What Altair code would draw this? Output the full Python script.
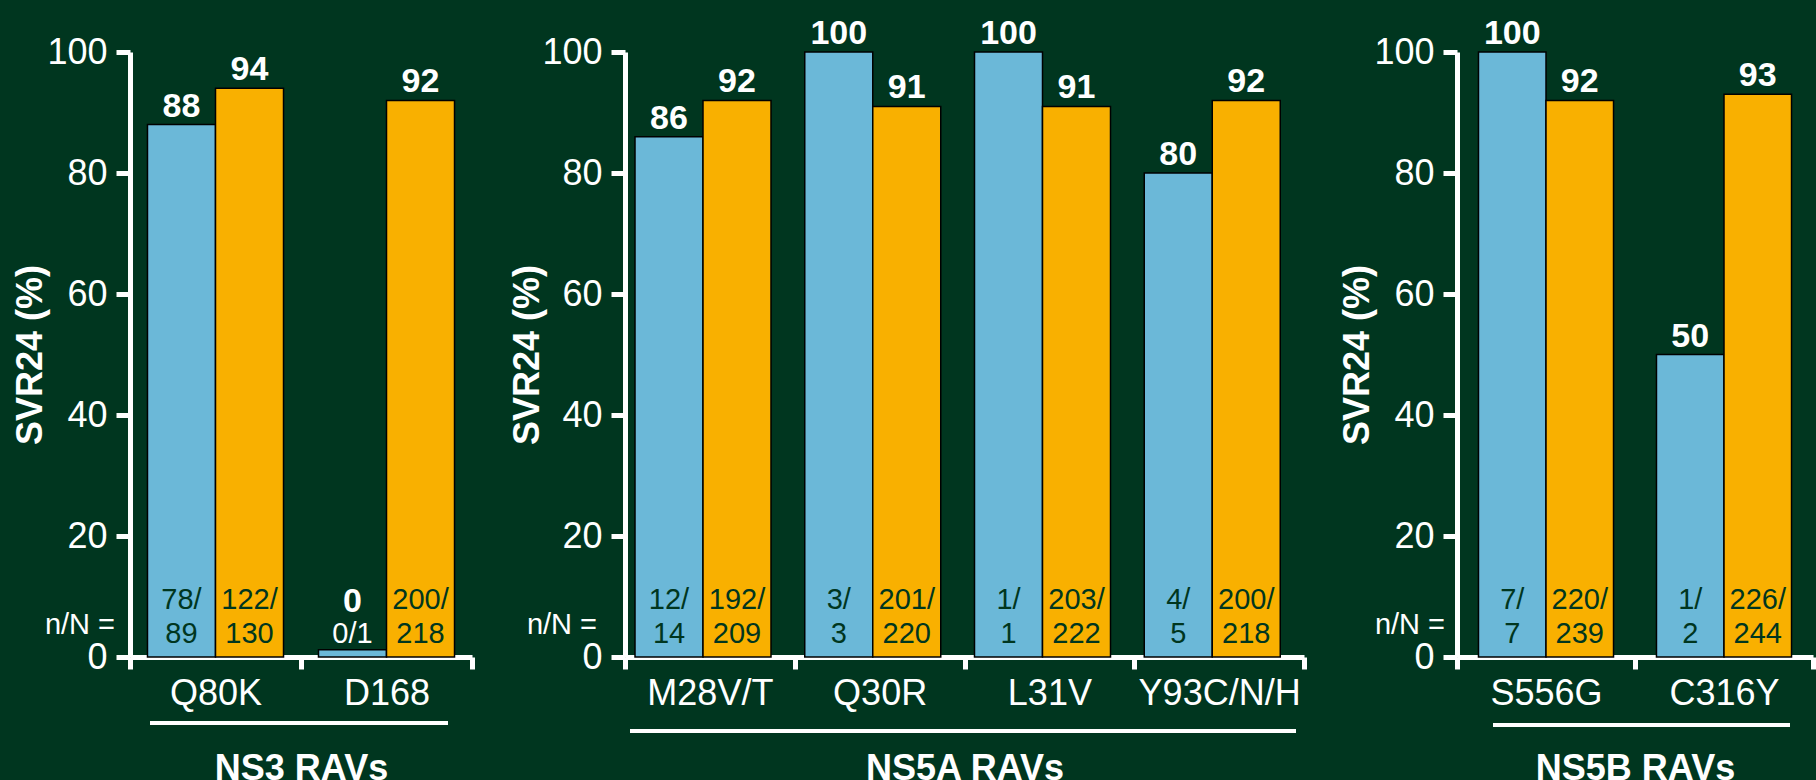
import altair as alt
import pandas as pd

FONT = "Liberation Sans"
BG = "#00361f"
BLUE = "#6bb8d8"
ORANGE = "#f9b000"
DARK = "#00361f"

arms = ["With RAV", "Without RAV"]

# NS3 RAVs
ns3_cats = ["Q80K", "D168"]
ns3_with = [88, 0]
ns3_without = [94, 92]
ns3_n_with = [78, 0]
ns3_N_with = [89, 1]
ns3_n_without = [122, 200]
ns3_N_without = [130, 218]

# NS5A RAVs
ns5a_cats = ["M28V/T", "Q30R", "L31V", "Y93C/N/H"]
ns5a_with = [86, 100, 100, 80]
ns5a_without = [92, 91, 91, 92]
ns5a_n_with = [12, 3, 1, 4]
ns5a_N_with = [14, 3, 1, 5]
ns5a_n_without = [192, 201, 203, 200]
ns5a_N_without = [209, 220, 222, 218]

# NS5B RAVs
ns5b_cats = ["S556G", "C316Y"]
ns5b_with = [100, 50]
ns5b_without = [92, 93]
ns5b_n_with = [7, 1]
ns5b_N_with = [7, 2]
ns5b_n_without = [220, 226]
ns5b_N_without = [239, 244]

y_ticks = [0, 20, 40, 60, 80, 100]
H = 605


def make_df(cats, v_with, v_without, n_with, N_with, n_without, N_without):
    rows = []
    for i, c in enumerate(cats):
        for arm, v, n, N in [
            (arms[0], v_with[i], n_with[i], N_with[i]),
            (arms[1], v_without[i], n_without[i], N_without[i]),
        ]:
            if v == 0:
                l1, l2 = "", f"{n}/{N}"
            else:
                l1, l2 = f"{n}/", f"{N}"
            rows.append(dict(cat=c, arm=arm, value=v, line1=l1, line2=l2))
    return pd.DataFrame(rows)


def panel(df, cats, title, width, ytitle_x, nn_x, rule_x, rule_x2, rule_y, offset_scale):
    base = alt.Chart(df)
    x = alt.X(
        "cat:N",
        sort=cats,
        scale=alt.Scale(paddingInner=0, paddingOuter=0),
        axis=alt.Axis(
            title=title,
            titleFont=FONT,
            titleFontSize=36,
            titleFontWeight="bold",
            titleColor="white",
            titlePadding=40,
            labelFont=FONT,
            labelFontSize=36,
            labelColor="white",
            labelPadding=7,
            labelAngle=0,
            tickBand="extent",
            tickSize=12,
            tickWidth=5,
            tickColor="white",
            domainColor="white",
            domainWidth=5,
            grid=False,
        ),
    )
    xo = alt.XOffset("arm:N", sort=arms, scale=offset_scale)
    y = alt.Y(
        "bar_h:Q",
        scale=alt.Scale(domain=[0, 100], nice=False),
        axis=alt.Axis(
            values=y_ticks,
            title="SVR24 (%)",
            titleX=ytitle_x,
            titleY=H / 2,
            titleAngle=270,
            titleAlign="center",
            titleBaseline="middle",
            titleFont=FONT,
            titleFontSize=36,
            titleFontWeight="bold",
            titleColor="white",
            labelFont=FONT,
            labelFontSize=36,
            labelColor="white",
            labelPadding=9,
            tickSize=14,
            tickWidth=5,
            tickColor="white",
            domainColor="white",
            domainWidth=5,
            grid=False,
        ),
    )
    bars = (
        base.transform_calculate(bar_h="max(datum.value, 1.2)")
        .mark_bar(stroke="black", strokeWidth=1.5)
        .encode(
            x=x,
            xOffset=xo,
            y=y,
            color=alt.Color(
                "arm:N", scale=alt.Scale(domain=arms, range=[BLUE, ORANGE]), legend=None
            ),
        )
    )
    vals = (
        base.transform_filter("datum.value > 0")
        .mark_text(font=FONT, fontSize=34, fontWeight="bold", color="white",
                   baseline="alphabetic", dy=-8)
        .encode(x=x, xOffset=xo, y=alt.Y("value:Q"), text="value:Q")
    )
    zero = (
        base.transform_filter("datum.value == 0")
        .mark_text(font=FONT, fontSize=34, fontWeight="bold", color="white",
                   baseline="middle", dy=-55)
        .encode(x=x, xOffset=xo, y=alt.datum(0), text="value:Q")
    )
    l1 = base.mark_text(font=FONT, fontSize=29, color=DARK, baseline="middle", dy=-57).encode(
        x=x, xOffset=xo, y=alt.datum(0), text="line1:N"
    )
    l2 = base.mark_text(font=FONT, fontSize=29, baseline="middle", dy=-23).encode(
        x=x,
        xOffset=xo,
        y=alt.datum(0),
        text="line2:N",
        color=alt.condition("datum.value == 0", alt.value("white"), alt.value(DARK)),
    )
    nn = (
        alt.Chart(pd.DataFrame({"t": ["n/N ="]}))
        .mark_text(font=FONT, fontSize=29, color="white", align="right",
                   baseline="middle", dy=-32)
        .encode(x=alt.value(nn_x), y=alt.datum(0), text="t:N")
    )
    rule = (
        alt.Chart(pd.DataFrame({"t": [title]}))
        .mark_rule(color="white", strokeWidth=4)
        .encode(x=alt.value(rule_x), x2=alt.value(rule_x2), y=alt.value(rule_y))
    )
    return alt.layer(bars, vals, zero, l1, l2, nn, rule).properties(width=width, height=H)


df3 = make_df(ns3_cats, ns3_with, ns3_without, ns3_n_with, ns3_N_with, ns3_n_without, ns3_N_without)
df5a = make_df(ns5a_cats, ns5a_with, ns5a_without, ns5a_n_with, ns5a_N_with, ns5a_n_without, ns5a_N_without)
df5b = make_df(ns5b_cats, ns5b_with, ns5b_without, ns5b_n_with, ns5b_N_with, ns5b_n_without, ns5b_N_without)

p1 = panel(df3, ns3_cats, "NS3 RAVs", 342, -100, -15, 20, 318, 671,
           alt.Scale(paddingInner=0, paddingOuter=0.257))
p2 = panel(df5a, ns5a_cats, "NS5A RAVs", 679, -98, -28, 5, 671, 679,
           alt.Scale(paddingInner=0, paddingOuter=0, range=[10, 146]))
p3 = panel(df5b, ns5b_cats, "NS5B RAVs", 356, -100, -12, 36, 333, 673,
           alt.Scale(paddingInner=0, paddingOuter=0.318))

chart = (
    alt.hconcat(p1, p2, p3, spacing=153, bounds="flush")
    .resolve_scale(x="independent", xOffset="independent", y="independent", color="shared")
    .properties(padding={"left": 12, "top": 17, "right": 0, "bottom": 0}, background=BG)
    .configure_view(stroke=None)
)

chart.save("out.html", embed_options={"renderer": "svg", "actions": False})
